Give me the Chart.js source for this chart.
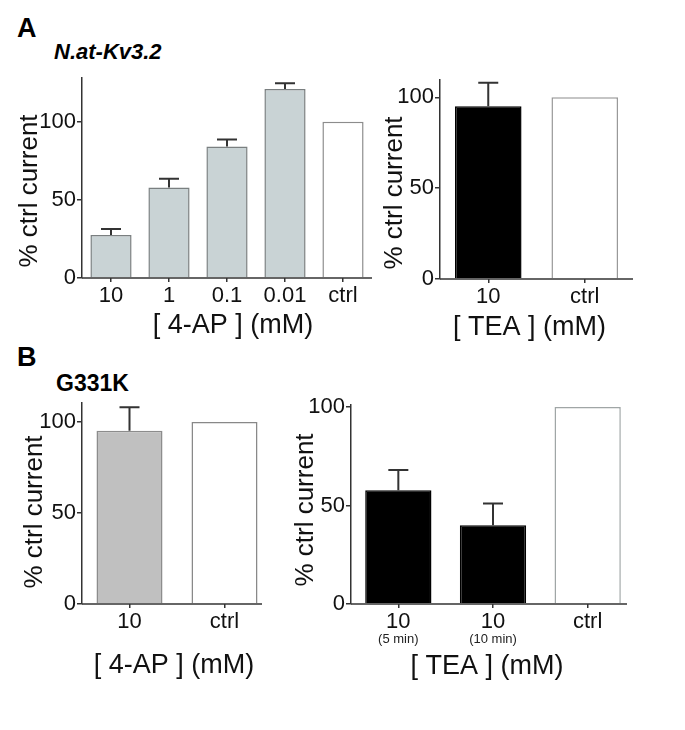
<!DOCTYPE html>
<html>
<head>
<meta charset="utf-8">
<script src="https://cdn.jsdelivr.net/npm/chart.js@4.4.1/dist/chart.umd.min.js"></script>
<style>
    html, body { margin: 0; padding: 0; background: #fff; }
    #wrap { position: relative; width: 685px; height: 730px; overflow: hidden; font-family: "Liberation Sans", Arial, sans-serif; }
    canvas { position: absolute; left: 0; top: 0; }
    .lbl { position: absolute; line-height: 1; font-weight: bold; white-space: nowrap; color: #000; }
</style>
</head>
<body>
<div id="wrap">
    <div class="lbl" style="left:17px;top:15px;font-size:27px">A</div>
    <div class="lbl" style="left:54px;top:41px;font-size:22px;font-style:italic">N.at-Kv3.2</div>
    <div class="lbl" style="left:17px;top:344px;font-size:27px">B</div>
    <div class="lbl" style="left:56px;top:372px;font-size:23px">G331K</div>
    <canvas id="chartA1" width="685" height="730"></canvas>
    <canvas id="chartA2" width="685" height="730"></canvas>
    <canvas id="chartB1" width="685" height="730"></canvas>
    <canvas id="chartB2" width="685" height="730"></canvas>
</div>
<script>
// data (% of control current, mean and upper error)
const apLabelsA = ['10', '1', '0.1', '0.01', 'ctrl'];
const apMeanA = [27.6, 58, 84.2, 121, 100];
const apErrA = [3.8, 5.5, 4.5, 3.6, 0];

const teaLabelsA = ['10', 'ctrl'];
const teaMeanA = [95, 100];
const teaErrA = [13, 0];

const apLabelsB = ['10', 'ctrl'];
const apMeanB = [95.2, 100];
const apErrB = [12.8, 0];

const teaLabelsB = ['10', '10', 'ctrl'];
const teaSubLabelsB = ['(5 min)', '(10 min)', ''];
const teaMeanB = [57.7, 40, 100];
const teaErrB = [10.3, 11, 0];

const yTicks = [0, 50, 100];

const FONT = '"Liberation Sans", Arial, sans-serif';
const AXIS = '#333';
const W = 685, H = 730;
const YW = 60, XH = 60;

const decor = {
    id: 'decor',
    afterDraw(chart) {
        const o = chart.options.plugins.decor;
        const { ctx, chartArea: a, scales: { x, y } } = chart;
        const ds = chart.data.datasets[0];
        const meta = chart.getDatasetMeta(0);
        ctx.save();

        // x axis line (Prism stops it a little short on some panels)
        ctx.strokeStyle = AXIS;
        ctx.lineWidth = 1.5;
        ctx.beginPath();
        ctx.moveTo(a.left, a.bottom);
        ctx.lineTo(a.right - o.axisTrim, a.bottom);
        ctx.stroke();

        // upward error bars
        ctx.strokeStyle = '#333';
        ctx.lineWidth = 2;
        meta.data.forEach((bar, i) => {
            const e = ds.errors[i];
            if (!e) return;
            const top = y.getPixelForValue(ds.data[i] + e);
            ctx.beginPath();
            ctx.moveTo(bar.x, bar.y);
            ctx.lineTo(bar.x, top);
            ctx.moveTo(bar.x - 10, top);
            ctx.lineTo(bar.x + 10, top);
            ctx.stroke();
        });

        // small second line under tick labels
        if (o.subLabels) {
            ctx.fillStyle = '#222';
            ctx.font = '13px ' + FONT;
            ctx.textAlign = 'center';
            ctx.textBaseline = 'middle';
            o.subLabels.forEach((s, i) => {
                if (s) ctx.fillText(s, x.getPixelForTick(i), a.bottom + 35);
            });
        }

        // axis titles
        ctx.fillStyle = '#111';
        ctx.textAlign = 'center';
        ctx.textBaseline = 'alphabetic';
        ctx.font = '27px ' + FONT;
        ctx.fillText(o.xTitle, (a.left + a.right) / 2 + o.xTitleDx, a.bottom + o.xTitleDy);

        ctx.font = '26px ' + FONT;
        ctx.translate(a.left + o.yTitleDx, (a.top + a.bottom) / 2 + o.yTitleDy);
        ctx.rotate(-Math.PI / 2);
        ctx.fillText('% ctrl current', 0, 0);
        ctx.restore();
    }
};

function makeChart(id, cfg) {
    const f = cfg.frame;
    return new Chart(document.getElementById(id), {
        type: 'bar',
        data: {
            labels: cfg.labels,
            datasets: [{
                data: cfg.values,
                errors: cfg.errors,
                backgroundColor: cfg.fills,
                borderColor: cfg.borders,
                borderWidth: 1.5,
                barPercentage: cfg.barPct,
                categoryPercentage: 1
            }]
        },
        options: {
            responsive: false,
            animation: false,
            events: [],
            layout: {
                padding: { left: f.l - YW, top: f.t, right: W - f.r, bottom: H - f.b - XH }
            },
            scales: {
                x: {
                    afterFit: s => { s.height = XH; },
                    border: { display: false },
                    grid: { display: true, offset: false, drawOnChartArea: false, drawTicks: true, tickLength: 4, color: AXIS, lineWidth: 1.5 },
                    ticks: { color: '#111', font: { family: FONT, size: 22 }, padding: 1, maxRotation: 0, autoSkip: false }
                },
                y: {
                    min: 0,
                    max: cfg.yMax,
                    afterFit: s => { s.width = YW; },
                    afterBuildTicks: s => { s.ticks = yTicks.map(v => ({ value: v })); },
                    border: { display: true, color: AXIS, width: 1.5 },
                    grid: { display: true, drawOnChartArea: false, drawTicks: true, tickLength: 5, color: AXIS, lineWidth: 1.5 },
                    ticks: { color: '#111', font: { family: FONT, size: 22 }, padding: 1 }
                }
            },
            plugins: {
                legend: { display: false },
                tooltip: { enabled: false },
                decor: {
                    axisTrim: cfg.axisTrim || 0,
                    subLabels: cfg.subLabels,
                    xTitle: cfg.xTitle,
                    xTitleDx: cfg.xTitleDx,
                    xTitleDy: cfg.xTitleDy,
                    yTitleDx: cfg.yTitleDx,
                    yTitleDy: cfg.yTitleDy
                }
            }
        },
        plugins: [decor]
    });
}

const GRAY_A = '#c9d3d5', GRAY_B = '#c0c0c0', BLACK = '#000', WHITE = '#fff';

makeChart('chartA1', {
    frame: { l: 82, t: 78, r: 372, b: 278 },
    yMax: 128,
    labels: apLabelsA, values: apMeanA, errors: apErrA,
    fills: [GRAY_A, GRAY_A, GRAY_A, GRAY_A, WHITE],
    borders: ['#7a7f80', '#7a7f80', '#7a7f80', '#7a7f80', '#8c8c8c'],
    barPct: 0.71,
    xTitle: '[ 4-AP ] (mM)', xTitleDx: 6, xTitleDy: 55,
    yTitleDx: -45, yTitleDy: 13
});

makeChart('chartA2', {
    frame: { l: 440, t: 80, r: 633, b: 279 },
    yMax: 109.5,
    labels: teaLabelsA, values: teaMeanA, errors: teaErrA,
    fills: [BLACK, WHITE],
    borders: [BLACK, '#999'],
    barPct: 0.69,
    xTitle: '[ TEA ] (mM)', xTitleDx: -7, xTitleDy: 56,
    yTitleDx: -38, yTitleDy: 13.5
});

makeChart('chartB1', {
    frame: { l: 82, t: 403, r: 272, b: 604 },
    yMax: 110.4,
    axisTrim: 10,
    labels: apLabelsB, values: apMeanB, errors: apErrB,
    fills: [GRAY_B, WHITE],
    borders: ['#8c8c8c', '#888'],
    barPct: 0.695,
    xTitle: '[ 4-AP ] (mM)', xTitleDx: -3, xTitleDy: 69,
    yTitleDx: -40, yTitleDy: 8.5
});

makeChart('chartB2', {
    frame: { l: 351, t: 405, r: 635, b: 604 },
    yMax: 101,
    axisTrim: 8,
    labels: teaLabelsB, values: teaMeanB, errors: teaErrB,
    subLabels: teaSubLabelsB,
    fills: [BLACK, BLACK, WHITE],
    borders: [BLACK, BLACK, '#a0a6a6'],
    barPct: 0.70,
    xTitle: '[ TEA ] (mM)', xTitleDx: -6, xTitleDy: 70,
    yTitleDx: -38, yTitleDy: 5.5
});
</script>
</body>
</html>
